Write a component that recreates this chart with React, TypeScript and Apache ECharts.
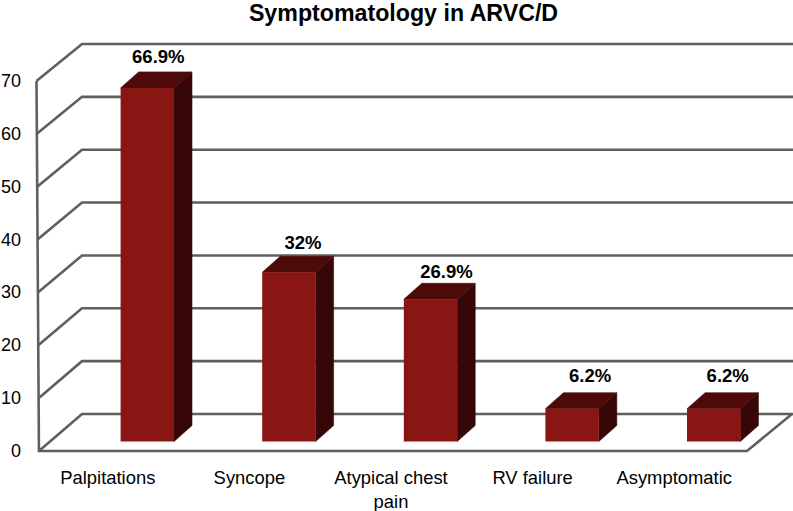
import React, { useEffect, useRef } from "react";
import * as echarts from "echarts";

const categories = ["Palpitations", "Syncope", "Atypical chest\npain", "RV failure", "Asymptomatic"];
const values = [66.9, 32, 26.9, 6.2, 6.2];
const valueLabels = ["66.9%", "32%", "26.9%", "6.2%", "6.2%"];
const ticks = [0, 10, 20, 30, 40, 50, 60, 70];

const LINE = "#5f5f5f";
const FRONT = "#8a1613";
const TOP = "#4e0a09";
const SIDE = "#360706";
const WALL_DX = 43;
const WALL_DY = 37;
const LABEL_NUDGE = [[-3, -1], [0, 0], [2, 2], [4, -3], [0, -3]];

export default function App() {
  const ref = useRef<HTMLDivElement>(null);
  useEffect(() => {
    document.body.style.margin = "0";
    const chart = echarts.init(ref.current!, undefined, { renderer: "svg" });
    chart.setOption({
      animation: false,
      backgroundColor: "#ffffff",
      title: {
        text: "Symptomatology in ARVC/D",
        left: 403.5,
        top: 0,
        padding: 0,
        textAlign: "center",
        textStyle: { fontFamily: "Liberation Sans", fontWeight: "bold", fontSize: 23.2, lineHeight: 25, color: "#000" },
      },
      grid: { left: 39, right: 46, top: 81, bottom: 60, outerBoundsMode: "none" },
      xAxis: {
        type: "category",
        data: categories,
        axisLine: { show: false },
        axisTick: { show: false },
        axisLabel: {
          interval: 0,
          margin: 14,
          padding: [0, 4, 0, 0],
          fontFamily: "Liberation Sans",
          fontSize: 18.4,
          lineHeight: 24,
          color: "#000",
        },
      },
      yAxis: {
        type: "value",
        min: 0,
        max: 70,
        interval: 10,
        splitLine: { show: false },
        axisLine: { show: false },
        axisTick: { show: false },
        axisLabel: { margin: 18, fontFamily: "Liberation Sans", fontSize: 18, color: "#000" },
      },
      series: [
        {
          type: "custom",
          silent: true,
          z: 1,
          data: ticks.map((t) => [0, t]),
          encode: { x: 0, y: 1 },
          renderItem: (params: any, api: any) => {
            const v = api.value(1);
            const y = api.coord([0, v])[1];
            const cs = params.coordSys;
            const tilt = (70 - v) * 0.035;
            const fx = cs.x - 2.5 + tilt;
            const style = { stroke: LINE, lineWidth: 2.6, fill: "none" };
            const children: any[] = [
              {
                type: "polyline",
                shape: { points: [[fx, y], [cs.x + WALL_DX, y - WALL_DY], [793, y - WALL_DY]] },
                style,
              },
            ];
            if (v === 0) {
              const top = api.coord([0, 70])[1];
              children.push({
                type: "polyline",
                shape: { points: [[cs.x - 2.5, top], [fx, y], [cs.x + cs.width, y], [792, y - WALL_DY]] },
                style,
              });
            }
            return { type: "group", children };
          },
        },
        {
          type: "custom",
          silent: true,
          z: 2,
          data: values.map((v, i) => [i, v, valueLabels[i]]),
          encode: { x: 0, y: 1 },
          renderItem: (params: any, api: any) => {
            const p = api.coord([api.value(0), api.value(1)]);
            const base = api.coord([api.value(0), 0]);
            const cx = p[0] + 37.5;
            const halfW = 26.7;
            const l = cx - halfW;
            const r = cx + halfW;
            const shift = 9.5;
            const t = p[1] - shift;
            const b = base[1] - shift;
            const dx = 18;
            const dy = 16;
            const nudge = LABEL_NUDGE[params.dataIndex];
            return {
              type: "group",
              children: [
                { type: "polygon", shape: { points: [[r, t], [r + dx, t - dy], [r + dx, b - dy], [r, b]] }, style: { fill: SIDE, stroke: SIDE, lineWidth: 0.6 } },
                { type: "polygon", shape: { points: [[l, t], [l + dx, t - dy], [r + dx, t - dy], [r, t]] }, style: { fill: TOP, stroke: TOP, lineWidth: 0.6 } },
                { type: "rect", shape: { x: l, y: t, width: r - l, height: b - t }, style: { fill: FRONT } },
                {
                  type: "text",
                  x: cx + 14 + nudge[0],
                  y: t - dy - 14 + nudge[1],
                  style: {
                    text: api.value(2),
                    align: "center",
                    verticalAlign: "middle",
                    fontFamily: "Liberation Sans",
                    fontWeight: "bold",
                    fontSize: 18.5,
                    fill: "#000",
                  },
                },
              ],
            };
          },
        },
      ],
    });
    return () => chart.dispose();
  }, []);
  return <div ref={ref} style={{ width: 793, height: 511 }} />;
}
